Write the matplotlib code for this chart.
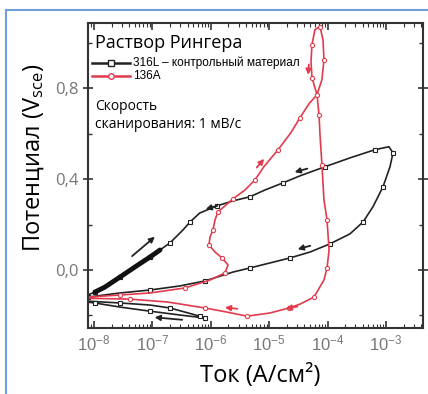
import matplotlib
matplotlib.use('Agg')
import matplotlib.pyplot as plt
from matplotlib.lines import Line2D
from matplotlib.ticker import FixedLocator, FixedFormatter, LogLocator, NullFormatter, MultipleLocator

plt.rcParams['font.family'] = ['Open Sans', 'DejaVu Sans']
plt.rcParams['mathtext.fontset'] = 'custom'
plt.rcParams['mathtext.rm'] = 'Liberation Sans'
plt.rcParams['mathtext.it'] = 'Liberation Sans:italic'
plt.rcParams['mathtext.bf'] = 'Liberation Sans:bold'

# 316L - ток (А/см2) и потенциал (В)
black_i = [7.96e-7, 2.97e-7, 9.1e-8, 2.79e-8, 1.04e-8, 3.9e-9, 7.9e-9, 2.79e-8, 9.1e-8, 2.97e-7,
           7.96e-7, 2.4e-6, 4.69e-6, 1.03e-5, 2.27e-5, 5.0e-5, 1.1e-4, 2.42e-4, 4.04e-4, 5.98e-4,
           8.89e-4, 1.17e-3, 1.32e-3, 1.12e-3, 6.49e-4, 2.42e-4, 9.0e-5, 3.37e-5, 1.72e-5, 8.5e-6,
           4.69e-6, 2.4e-6, 1.28e-6, 6.5e-7, 4.4e-7, 3.34e-7, 2.0e-7, 1.35e-7, 9.1e-8, 5.0e-8,
           2.79e-8, 1.54e-8, 1.04e-8, 7.0e-9, 3.9e-9, 7.9e-9, 2.79e-8, 9.1e-8, 2.0e-7, 3.6e-7, 6.5e-7]
black_e = [-0.211, -0.198, -0.181, -0.163, -0.145, -0.132, -0.119, -0.101, -0.088, -0.070,
           -0.048, -0.009, 0.009, 0.031, 0.053, 0.079, 0.115, 0.159, 0.211, 0.278,
           0.366, 0.454, 0.515, 0.542, 0.529, 0.493, 0.454, 0.414, 0.383, 0.352,
           0.322, 0.304, 0.282, 0.251, 0.211, 0.176, 0.119, 0.088, 0.057, 0.013,
           -0.031, -0.075, -0.097, -0.115, -0.128, -0.137, -0.145, -0.154, -0.167, -0.185, -0.203]

# 136A
red_i = [3.9e-9, 7.9e-9, 2.79e-8, 9.1e-8, 3.61e-7, 9.7e-7, 1.75e-6, 1.97e-6, 1.56e-6, 1.18e-6,
         9.3e-7, 9.7e-7, 1.09e-6, 1.18e-6, 1.33e-6, 1.75e-6, 2.4e-6, 3.86e-6, 5.7e-6, 8.1e-6,
         1.42e-5, 2.36e-5, 3.37e-5, 4.81e-5, 6.58e-5, 8.0e-5, 8.67e-5, 8.34e-5, 7.41e-5, 6.08e-5,
         5.4e-5, 5.2e-5, 5.4e-5, 6.58e-5, 7.13e-5, 7.41e-5, 8.0e-5, 8.67e-5, 9.78e-5, 1.06e-4,
         9.78e-5, 8.67e-5, 5.85e-5, 3.37e-5, 2.18e-5, 1.03e-5, 4.17e-6, 1.89e-6, 7.96e-7, 1.85e-7,
         4.13e-8, 3.9e-9]
red_e = [-0.123, -0.119, -0.110, -0.101, -0.079, -0.044, -0.013, 0.022, 0.053, 0.079,
         0.110, 0.145, 0.176, 0.220, 0.256, 0.282, 0.313, 0.352, 0.396, 0.454,
         0.529, 0.604, 0.670, 0.731, 0.771, 0.837, 0.925, 1.013, 1.070, 1.057,
         0.991, 0.916, 0.846, 0.771, 0.683, 0.595, 0.463, 0.308, 0.220, 0.088,
         0.009, -0.044, -0.119, -0.150, -0.167, -0.189, -0.203, -0.185, -0.167, -0.141,
         -0.128, -0.123]

# стрелки направления развертки: (ток от, потенциал от, ток до, потенциал до)
black_arrows = [(4.13e-8, 0.053, 1.2e-7, 0.154),
                (1.44e-6, 0.286, 7.35e-7, 0.264),
                (5.0e-5, 0.449, 2.45e-5, 0.427),
                (5.62e-5, 0.110, 2.77e-5, 0.088),
                (3.61e-7, -0.220, 9.8e-8, -0.207)]
red_arrows = [(5.7e-6, 0.441, 8.8e-6, 0.498),
              (4.81e-5, 0.916, 4.6e-5, 0.846),
              (3.16e-6, -0.172, 1.56e-6, -0.163),
              (3.37e-5, -0.159, 1.72e-5, -0.172)]

x_ticks = [1e-8, 1e-7, 1e-6, 1e-5, 1e-4, 1e-3]
x_tick_labels = ['$10^{-8}$', '$10^{-7}$', '$10^{-6}$', '$10^{-5}$', '$10^{-4}$', '$10^{-3}$']
y_ticks = [0.0, 0.4, 0.8]
y_tick_labels = ['0,0', '0,4', '0,8']

black = '#222222'
red = '#e23b4e'

fig = plt.figure(figsize=(4.28, 3.94), dpi=100)
ax = fig.add_axes([88 / 428, 1 - 328 / 394, 335 / 428, 305 / 394])

ax.plot(black_i, black_e, color=black, lw=1.2, marker='s', ms=3, mfc='white', mec=black, mew=0.8, markevery=2)
ax.plot(black_i[37:43], black_e[37:43], color='#111111', lw=3.5, solid_capstyle='round')
ax.plot(red_i, red_e, color=red, lw=1.2, marker='o', ms=3, mfc='white', mec=red, mew=0.8, markevery=2)

for a in black_arrows:
    ax.annotate('', xy=(a[2], a[3]), xytext=(a[0], a[1]),
                arrowprops=dict(arrowstyle='-|>', color=black, lw=1.3, mutation_scale=8))
for a in red_arrows:
    ax.annotate('', xy=(a[2], a[3]), xytext=(a[0], a[1]),
                arrowprops=dict(arrowstyle='-|>', color=red, lw=1.3, mutation_scale=8))

ax.set_xscale('log')
ax.set_xlim(7.9e-9, 4.3e-3)
ax.set_ylim(-0.255, 1.086)

ax.xaxis.set_major_locator(FixedLocator(x_ticks))
ax.xaxis.set_major_formatter(FixedFormatter(x_tick_labels))
ax.xaxis.set_minor_locator(LogLocator(base=10, subs=range(2, 10), numticks=20))
ax.xaxis.set_minor_formatter(NullFormatter())
ax.yaxis.set_major_locator(FixedLocator(y_ticks))
ax.yaxis.set_major_formatter(FixedFormatter(y_tick_labels))
ax.yaxis.set_minor_locator(MultipleLocator(0.2))

ax.tick_params(which='both', top=True, right=True, colors='#333333', labelcolor='#777777', labelsize=12)
ax.tick_params(axis='x', which='major', direction='in', length=5, width=1.2, pad=5)
ax.tick_params(axis='x', which='minor', direction='in', length=3, width=0.8)
ax.tick_params(axis='y', which='major', direction='inout', length=7, width=1.2, pad=3)
ax.tick_params(axis='y', which='minor', direction='in', length=3, width=1.0)
for s in ax.spines.values():
    s.set_linewidth(1.5)
    s.set_color('#333333')

# легенда вручную
ax.text(0.021, 0.919, 'Раствор Рингера', transform=ax.transAxes, fontsize=13, va='baseline', ha='left')
narrow = ['Liberation Sans', 'DejaVu Sans']
ax.add_line(Line2D([0.012, 0.125], [0.869, 0.869], transform=ax.transAxes, color=black, lw=1.8))
ax.add_line(Line2D([0.069], [0.869], transform=ax.transAxes, color=black, marker='s', ms=4, mfc='white', mew=1))
ax.text(0.134, 0.869, '316L – контрольный материал', transform=ax.transAxes, fontsize=8.5,
        family=narrow, va='center', ha='left')
ax.add_line(Line2D([0.012, 0.125], [0.826, 0.826], transform=ax.transAxes, color=red, lw=1.8))
ax.add_line(Line2D([0.069], [0.826], transform=ax.transAxes, color=red, marker='o', ms=4, mfc='white', mew=1))
ax.text(0.134, 0.826, '136A', transform=ax.transAxes, fontsize=8.5, family=narrow, va='center', ha='left')
ax.text(0.021, 0.715, 'Скорость', transform=ax.transAxes, fontsize=10, va='baseline', ha='left')
ax.text(0.021, 0.656, 'сканирования: 1 мВ/с', transform=ax.transAxes, fontsize=10, va='baseline', ha='left')

fig.text(260 / 428, 1 - 382 / 394, 'Ток (А/см²)', fontsize=17, ha='center', va='baseline')
fig.text(34 / 428, 1 - 158 / 394, r'Потенциал (V$\mathregular{_{sce}}$)', fontsize=17,
         rotation=90, ha='center', va='center')

# синяя рамка
fig.add_artist(Line2D([6 / 428, 6 / 428], [0, 1 - 10 / 394], transform=fig.transFigure, color='#6f9fd8', lw=1.5))
fig.add_artist(Line2D([6 / 428, 1], [1 - 10 / 394, 1 - 10 / 394], transform=fig.transFigure, color='#6f9fd8', lw=1.5))

fig.savefig('out.png', dpi=100)
